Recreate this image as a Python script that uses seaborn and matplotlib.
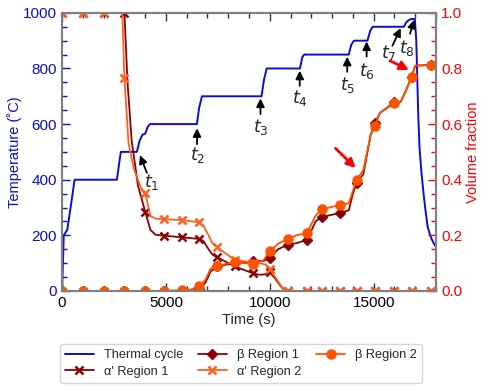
import numpy as np
import matplotlib
matplotlib.use('Agg')
import matplotlib.pyplot as plt
from matplotlib.ticker import MultipleLocator
import seaborn as sns

# thermal cycle (time s, temperature C)
cycle_time = [0, 80, 250, 450, 600, 2640, 2740, 2830, 3600, 3730, 3870, 4000, 4120, 4240,
              6490, 6600, 6735, 9600, 9720, 9850, 11450, 11560, 11650, 13800, 13920, 14050,
              14700, 14830, 14950, 16450, 16560, 16650, 16800, 16980, 17050, 17100, 17150,
              17210, 17300, 17400, 17500, 17600, 17700, 17800, 17900, 18000]
cycle_temp = [0, 200, 220, 320, 400, 400, 455, 500, 500, 540, 562, 565, 590, 600,
              600, 660, 700, 700, 760, 800, 800, 840, 850, 850, 885, 900,
              900, 935, 950, 950, 965, 972, 978, 978, 900, 760, 620,
              510, 425, 350, 285, 230, 205, 185, 170, 158]

# times of the measured points (markers)
sample_time = [0, 1000, 2000, 3000, 4000, 4900, 5750, 6600, 7450, 8300, 9180, 10000,
               10880, 11800, 12500, 13360, 14180, 15060, 15970, 16830, 17740]

alpha1_marks = [1, 1, 1, 1, 0.285, 0.199, 0.193, 0.187, 0.122, 0.088, 0.064, 0.068,
                0, 0, 0, 0, 0, 0, 0, 0, 0]
alpha2_marks = [1, 1, 1, 0.766, 0.352, 0.258, 0.255, 0.247, 0.158, 0.112, 0.102, 0.078,
                0, 0, 0, 0, 0, 0, 0, 0, 0]
beta1_marks = [0, 0, 0, 0, 0, 0, 0, 0.006, 0.088, 0.1, 0.106, 0.118,
               0.167, 0.184, 0.266, 0.28, 0.388, 0.603, 0.678, 0.771, 0.813]
beta2_marks = [0, 0, 0, 0, 0, 0, 0.003, 0.018, 0.09, 0.104, 0.096, 0.142,
               0.188, 0.21, 0.293, 0.309, 0.4, 0.594, 0.675, 0.771, 0.813]

# extra points giving the shape of the curves between markers
alpha1_extra_t = [3150, 3350, 3650, 4250, 4500, 6800, 7050, 7250, 9500, 9800, 10300, 10600]
alpha1_extra_v = [0.75, 0.54, 0.38, 0.22, 0.202, 0.18, 0.15, 0.13, 0.058, 0.06, 0.04, 0.01]
alpha2_extra_t = [2900, 3200, 3450, 3800, 4250, 4500, 6800, 7050, 7250, 9500, 9800, 10300, 10600]
alpha2_extra_v = [1.0, 0.53, 0.44, 0.37, 0.27, 0.26, 0.235, 0.2, 0.17, 0.1, 0.095, 0.045, 0.012]
beta1_extra_t = [6200, 6900, 7150, 9700, 9900, 10400, 11300, 11900, 12200, 13800, 14000,
                 14500, 14850, 15300, 15700, 16300, 16550, 17000]
beta1_extra_v = [0.0, 0.03, 0.07, 0.108, 0.115, 0.15, 0.172, 0.2, 0.25, 0.29, 0.35,
                 0.42, 0.56, 0.64, 0.662, 0.68, 0.72, 0.81]
beta2_extra_t = [6200, 6900, 7150, 9700, 9900, 10400, 11300, 11900, 12200, 13800, 14000,
                 14500, 14850, 15300, 15700, 16300, 16550, 17000]
beta2_extra_v = [0.005, 0.04, 0.08, 0.11, 0.135, 0.17, 0.2, 0.225, 0.27, 0.315, 0.36,
                 0.435, 0.56, 0.64, 0.66, 0.68, 0.72, 0.81]

# t_i labels and their arrows, in time / temperature
t_labels = ['$t_1$', '$t_2$', '$t_3$', '$t_4$', '$t_5$', '$t_6$', '$t_7$', '$t_8$']
t_text = [(4300, 390), (6510, 490), (9550, 590), (11440, 695), (13725, 740),
          (14660, 790), (15700, 855), (16600, 875)]
t_tail = [(4080, 425), (6495, 528), (9550, 636), (11440, 738), (13725, 788),
          (14660, 843), (15900, 882), (16750, 925)]
t_head = [(3750, 488), (6495, 585), (9550, 692), (11440, 792), (13725, 842),
          (14660, 897), (16300, 945), (16950, 975)]
red_tail = [(13160, 0.513), (15780, 0.828)]
red_head = [(14130, 0.442), (16700, 0.795)]


def merge(marks, extra_t, extra_v):
    t = np.array(sample_time + extra_t, float)
    v = np.array(marks + extra_v, float)
    order = np.argsort(t, kind='stable')
    idx = sorted(int(np.where(order == i)[0][0]) for i in range(len(sample_time)))
    return t[order], v[order], idx


sns.set_style('ticks')
plt.rcParams['font.family'] = ['Liberation Sans', 'DejaVu Sans']
plt.rcParams['mathtext.fontset'] = 'dejavusans'

blue = '#0c0cd8'
dred = '#8b0000'
orange_a = '#ff5f1f'
orange_b = '#ff5200'
spine_c = '#808080'

fig = plt.figure(figsize=(4.85, 3.9), dpi=100)
ax = fig.add_axes([0.128, 0.254, 0.771, 0.713])
ax2 = ax.twinx()

sns.lineplot(x=cycle_time, y=cycle_temp, ax=ax, color=blue, lw=1.4, sort=False,
             estimator=None, label='Thermal cycle', legend=False)

series = [
    ("\u03b1' Region 1", alpha1_marks, alpha1_extra_t, alpha1_extra_v, dred, 'x', 6),
    ("\u03b2 Region 1", beta1_marks, beta1_extra_t, beta1_extra_v, dred, 'D', 5.5),
    ("\u03b1' Region 2", alpha2_marks, alpha2_extra_t, alpha2_extra_v, orange_a, 'x', 6),
    ("\u03b2 Region 2", beta2_marks, beta2_extra_t, beta2_extra_v, orange_b, 'o', 6.5),
]
for name, marks, et, ev, c, m, ms in series:
    t, v, idx = merge(marks, et, ev)
    sns.lineplot(x=t, y=v, ax=ax2, color=c, lw=1.3, marker=m, markevery=idx, ms=ms,
                 mec=c, mfc=c, mew=1.8 if m == 'x' else 1.0, sort=False,
                 estimator=None, label=name, legend=False)

ax.set_xlim(0, 18000)
ax.set_ylim(0, 1000)
ax2.set_ylim(0, 1.0)

ax.xaxis.set_major_locator(MultipleLocator(5000))
ax.xaxis.set_minor_locator(MultipleLocator(1000))
ax.yaxis.set_major_locator(MultipleLocator(200))
ax.yaxis.set_minor_locator(MultipleLocator(50))
ax2.yaxis.set_major_locator(MultipleLocator(0.2))
ax2.yaxis.set_minor_locator(MultipleLocator(0.05))
ax2.yaxis.set_major_formatter(matplotlib.ticker.FormatStrFormatter('%.1f'))

ax.tick_params(axis='x', which='both', direction='in', top=True, bottom=True,
               colors='black', labelsize=11, color='#333333')
ax.tick_params(axis='x', which='major', length=6, width=1)
ax.tick_params(axis='x', which='minor', length=3.5, width=1)
ax.tick_params(axis='y', which='both', direction='in', colors=blue, labelsize=11)
ax.tick_params(axis='y', which='major', length=6, width=1)
ax.tick_params(axis='y', which='minor', length=3.5, width=1)
ax2.tick_params(axis='y', which='both', direction='in', colors='red', labelsize=11)
ax2.tick_params(axis='y', which='major', length=6, width=1)
ax2.tick_params(axis='y', which='minor', length=3.5, width=1)

for a in (ax, ax2):
    for s in a.spines.values():
        s.set_color(spine_c)
        s.set_linewidth(1.5)

ax.set_xlabel('Time (s)', fontsize=10.5, labelpad=2)
ax.set_ylabel('Temperature (\u02daC)', fontsize=10.5, color=blue, labelpad=1)
ax2.set_ylabel('Volume fraction', fontsize=10.5, color='red', labelpad=3)

for lab, tp, tl, hp in zip(t_labels, t_text, t_tail, t_head):
    ax.text(tp[0], tp[1], lab, ha='center', va='center', fontsize=12.5)
    ax.annotate('', xy=hp, xytext=tl,
                arrowprops=dict(arrowstyle='-|>', color='black', lw=1.3,
                                mutation_scale=12, shrinkA=0, shrinkB=0))
for tp, hp in zip(red_tail, red_head):
    ax2.annotate('', xy=hp, xytext=tp,
                 arrowprops=dict(arrowstyle='-|>', color='red', lw=2,
                                 mutation_scale=13, shrinkA=0, shrinkB=0))

h1, l1 = ax.get_legend_handles_labels()
h2, l2 = ax2.get_legend_handles_labels()
fig.legend(h1 + h2, l1 + l2, loc='upper center', bbox_to_anchor=(0.497, 0.134),
           ncol=3, fontsize=9.2, frameon=True, edgecolor='#cccccc', fancybox=True,
           handlelength=2.2, columnspacing=1.2, labelspacing=0.35, borderpad=0.4)

fig.savefig('out.png', dpi=100)
